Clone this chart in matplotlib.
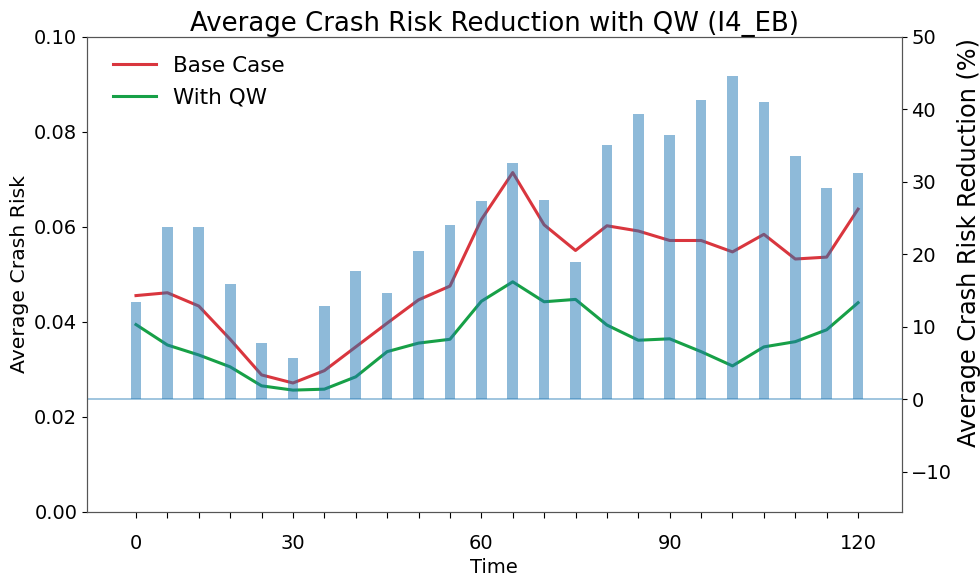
import matplotlib
matplotlib.use("Agg")
import matplotlib.pyplot as plt
import numpy as np

# Data (index positions 0..23; tick labels placed as in reference)
time_labels = ["0", "30", "60", "90", "120"]
label_positions = [0, 5, 11, 17, 23]

base_case = [0.0455, 0.0461, 0.0433, 0.0363, 0.0288, 0.0271, 0.0297, 0.0347,
             0.0397, 0.0446, 0.0475, 0.0615, 0.0714, 0.0604, 0.0550, 0.0602,
             0.0591, 0.0571, 0.0571, 0.0547, 0.0584, 0.0532, 0.0536, 0.0637]
with_qw = [0.0394, 0.0351, 0.0330, 0.0305, 0.0265, 0.0256, 0.0258, 0.0284,
           0.0337, 0.0355, 0.0363, 0.0443, 0.0484, 0.0442, 0.0447, 0.0393,
           0.0361, 0.0364, 0.0337, 0.0307, 0.0347, 0.0358, 0.0383, 0.0440]
reduction = [13.4, 23.8, 23.7, 15.9, 7.8, 5.7, 12.8, 17.7, 14.7, 20.5, 24.0,
             27.3, 32.6, 27.5, 19.0, 35.0, 39.3, 36.5, 41.3, 44.6, 41.0, 33.6,
             29.2, 31.2]

plt.rcParams['font.family'] = ['DejaVu Sans']
plt.rcParams['font.size'] = 14

fig = plt.figure(figsize=(9.8, 5.79), dpi=100)
ax = fig.add_axes([0.0888, 0.1162, 0.8313, 0.8204])
x = np.arange(len(base_case))

ax.plot(x, base_case, color='#d9363e', lw=2.2, label='Base Case')
ax.plot(x, with_qw, color='#17a047', lw=2.2, label='With QW')
ax.set_ylim(0, 0.1)
ax.set_yticks([0, 0.02, 0.04, 0.06, 0.08, 0.10])
ax.set_yticklabels(['0.00', '0.02', '0.04', '0.06', '0.08', '0.10'])
ax.set_xlim(-1.56, 24.39)
ticks = list(range(len(base_case)))
labels = [''] * len(ticks)
for p, l in zip(label_positions, time_labels):
    labels[p] = l
ax.set_xticks(ticks)
ax.set_xticklabels(labels)
ax.tick_params(axis='x', length=4, pad=12)
ax.set_xlabel('Time')
ax.set_ylabel('Average Crash Risk', fontsize=14.7)
ax.set_title('Average Crash Risk Reduction with QW (I4_EB)', fontsize=18.7, pad=3)
ax.legend(loc='upper left', frameon=False, handlelength=2.0, fontsize=15.5,
          borderaxespad=0.8, labelspacing=0.55, bbox_to_anchor=(0.0, 1.014))

ax2 = ax.twinx()
ax2.bar(x, reduction, width=0.34, color='#1f77b4', alpha=0.5)
ax2.axhline(0, color='#1f77b4', alpha=0.5, lw=1.2)
ax2.set_ylim(-15.5, 50)
ax2.set_yticks([-10, 0, 10, 20, 30, 40, 50])
ax2.set_ylabel('Average Crash Risk Reduction (%)', fontsize=17.3)
ax2.yaxis.set_label_coords(1.068, 0.566)

for a in (ax, ax2):
    for s in a.spines.values():
        s.set_color('#555555')

fig.savefig('out.png', dpi=100)
